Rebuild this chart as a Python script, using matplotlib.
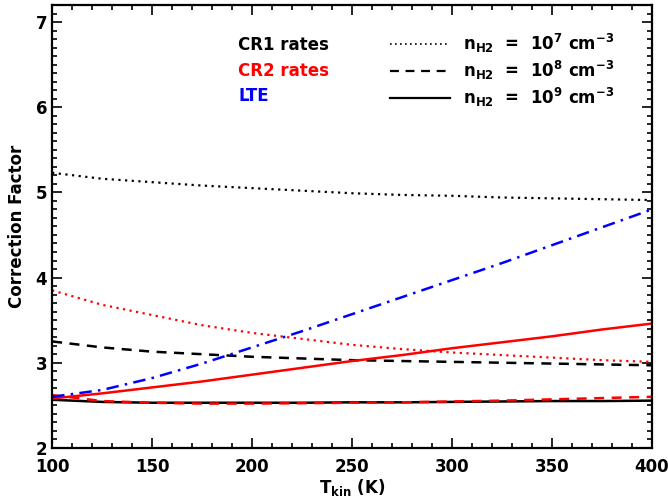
import numpy as np
import matplotlib
matplotlib.use('Agg')
import matplotlib.pyplot as plt
from matplotlib.lines import Line2D

plt.rcParams['font.family'] = ['DejaVu Sans']
plt.rcParams['font.weight'] = 'bold'
plt.rcParams['mathtext.default'] = 'bf'

# kinetic temperature grid (K)
tkin = [100, 125, 150, 175, 200, 225, 250, 275, 300, 325, 350, 375, 400]

# CR1 rates (black)
cr1_n7 = [5.23, 5.16, 5.12, 5.08, 5.05, 5.02, 4.99, 4.97, 4.96, 4.94, 4.93, 4.92, 4.91]
cr1_n8 = [3.25, 3.18, 3.13, 3.10, 3.07, 3.05, 3.03, 3.02, 3.01, 3.00, 2.99, 2.98, 2.97]
cr1_n9 = [2.565, 2.54, 2.53, 2.53, 2.53, 2.53, 2.535, 2.535, 2.54, 2.545, 2.55, 2.55, 2.555]

# CR2 rates (red)
cr2_n7 = [3.85, 3.68, 3.56, 3.44, 3.35, 3.28, 3.21, 3.16, 3.12, 3.09, 3.06, 3.03, 3.01]
cr2_n8 = [2.62, 2.55, 2.53, 2.52, 2.52, 2.525, 2.53, 2.535, 2.545, 2.555, 2.57, 2.585, 2.60]
cr2_n9 = [2.58, 2.64, 2.71, 2.78, 2.86, 2.94, 3.02, 3.09, 3.17, 3.24, 3.31, 3.39, 3.46]

# LTE (blue)
lte = [2.60, 2.68, 2.82, 2.99, 3.18, 3.37, 3.57, 3.77, 3.97, 4.17, 4.38, 4.59, 4.80]

dotted = (0, (1, 2))
dashed = (0, (4, 3))
dashdot = (0, (5, 2.5, 1, 2.5))

fig = plt.figure(figsize=(6.68, 5.01), dpi=100)
ax = fig.add_axes([0.078, 0.106, 0.898, 0.884])

ax.plot(tkin, cr1_n7, color='black', ls=dotted, lw=1.6)
ax.plot(tkin, cr1_n8, color='black', ls=dashed, lw=1.8)
ax.plot(tkin, cr1_n9, color='black', ls='-', lw=1.8)
ax.plot(tkin, cr2_n7, color='red', ls=dotted, lw=1.6)
ax.plot(tkin, cr2_n8, color='red', ls=dashed, lw=1.8)
ax.plot(tkin, cr2_n9, color='red', ls='-', lw=1.8)
ax.plot(tkin, lte, color='blue', ls=dashdot, lw=1.8)

ax.set_xlim(100, 400)
ax.set_ylim(2, 7.2)
ax.set_xticks([100, 150, 200, 250, 300, 350, 400])
ax.set_xticks(np.arange(100, 401, 10), minor=True)
ax.set_yticks([2, 3, 4, 5, 6, 7])
ax.set_yticks(np.arange(2, 7.21, 0.1), minor=True)
ax.tick_params(which='both', direction='in', top=True, right=True, width=1.2, labelsize=12)
ax.tick_params(which='major', length=7)
ax.tick_params(which='minor', length=3.6)
ax.tick_params(axis='x', pad=7)
for s in ax.spines.values():
    s.set_linewidth(1.6)

ax.set_xlabel(r'T$_{kin}$ (K)', fontsize=12, fontweight='bold', labelpad=1)
ax.set_ylabel('Correction Factor', fontsize=12, fontweight='bold', labelpad=7)

# rate set labels
ax.text(0.31, 0.91, 'CR1 rates', color='black', fontsize=12, fontweight='bold',
        transform=ax.transAxes, va='center')
ax.text(0.31, 0.851, 'CR2 rates', color='red', fontsize=12, fontweight='bold',
        transform=ax.transAxes, va='center')
ax.text(0.31, 0.795, 'LTE', color='blue', fontsize=12, fontweight='bold',
        transform=ax.transAxes, va='center')

# density legend
handles = [Line2D([], [], color='black', ls=dotted, lw=1.2),
           Line2D([], [], color='black', ls=dashed, lw=1.6),
           Line2D([], [], color='black', ls='-', lw=1.6)]
labels = [r'n$_{H2}$  =  10$^{7}$ cm$^{-3}$',
          r'n$_{H2}$  =  10$^{8}$ cm$^{-3}$',
          r'n$_{H2}$  =  10$^{9}$ cm$^{-3}$']
ax.legend(handles, labels, loc='upper left', bbox_to_anchor=(0.552, 0.955),
          frameon=False, fontsize=12, handlelength=3.6, handletextpad=0.8,
          labelspacing=0.25, borderaxespad=0)

fig.savefig('out.png', dpi=100)
